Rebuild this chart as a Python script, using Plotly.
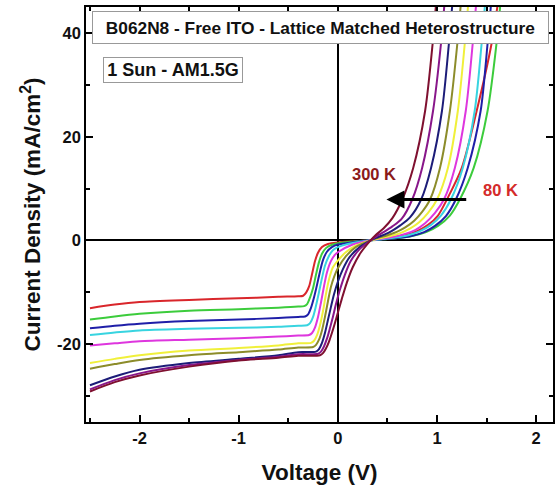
import plotly.graph_objects as go

# ---- data ----
colors = ["#d9262b", "#3ccc3c", "#1f1fa8", "#38d4e0", "#de36de",
          "#f0f03a", "#8c8c2a", "#1c1c78", "#88168a", "#7f1030"]

V_red = [-2.5, -2.25, -2.0, -1.5, -1.0, -0.6, -0.40, -0.35, -0.32, -0.29, -0.26, -0.23, -0.20, -0.16, -0.10, 0.0, 0.15, 0.33, 0.45, 0.58, 0.70, 0.81, 0.91, 1.01, 1.10, 1.25, 1.40, 1.55, 1.63]
J_red = [-13.1, -12.4, -11.9, -11.5, -11.2, -10.9, -10.8, -10.7, -10.1, -8.9, -6.5, -4.0, -2.4, -1.3, -0.7, -0.4, -0.2, 0.0, 0.25, 0.6, 1.1, 1.9, 3.0, 4.8, 7.9, 14, 25, 38, 48]

V_green = [-2.5, -2.25, -2.0, -1.5, -1.0, -0.6, -0.40, -0.34, -0.31, -0.28, -0.25, -0.22, -0.19, -0.16, -0.12, -0.06, 0.0, 0.15, 0.33, 0.46, 0.60, 0.75, 0.89, 1.01, 1.13, 1.23, 1.37, 1.51, 1.60, 1.65]
J_green = [-15.3, -14.7, -14.2, -13.6, -13.3, -13.0, -12.8, -12.7, -12.3, -11.0, -9.2, -6.6, -4.2, -2.6, -1.5, -0.85, -0.55, -0.25, 0.0, 0.2, 0.45, 0.85, 1.6, 2.8, 4.8, 7.9, 14, 25, 38, 48]

V_blue = [-2.5, -2.25, -2.0, -1.5, -1.0, -0.6, -0.40, -0.33, -0.30, -0.27, -0.24, -0.21, -0.18, -0.15, -0.11, -0.06, 0.0, 0.15, 0.33, 0.46, 0.60, 0.74, 0.87, 0.98, 1.09, 1.19, 1.31, 1.44, 1.51, 1.555]
J_blue = [-17.0, -16.5, -16.1, -15.6, -15.3, -15.0, -14.8, -14.7, -14.3, -13.0, -11.0, -8.6, -6.0, -3.8, -2.2, -1.3, -0.8, -0.35, 0.0, 0.2, 0.45, 0.85, 1.6, 2.8, 4.7, 7.9, 14, 25, 38, 48]

V_cyan = [-2.5, -2.25, -2.0, -1.5, -1.0, -0.6, -0.40, -0.31, -0.28, -0.25, -0.22, -0.19, -0.16, -0.13, -0.09, -0.05, 0.0, 0.15, 0.33, 0.45, 0.58, 0.71, 0.83, 0.94, 1.04, 1.14, 1.26, 1.38, 1.45, 1.495]
J_cyan = [-18.3, -17.8, -17.4, -17.1, -16.9, -16.7, -16.5, -16.4, -16.0, -14.8, -12.6, -10.0, -7.3, -4.9, -3.0, -1.9, -1.3, -0.5, 0.0, 0.25, 0.55, 1.0, 1.8, 3.0, 4.8, 7.9, 14, 25, 38, 48]

V_magenta = [-2.5, -2.25, -2.0, -1.5, -1.0, -0.6, -0.40, -0.29, -0.26, -0.23, -0.20, -0.17, -0.14, -0.11, -0.07, -0.03, 0.0, 0.15, 0.33, 0.45, 0.56, 0.67, 0.78, 0.88, 0.98, 1.07, 1.18, 1.29, 1.36, 1.405]
J_magenta = [-20.3, -19.9, -19.5, -19.2, -18.9, -18.6, -18.4, -18.3, -17.9, -16.8, -14.8, -12.0, -8.9, -6.2, -4.0, -2.8, -2.3, -0.8, 0.0, 0.35, 0.7, 1.2, 2.0, 3.3, 5.3, 7.9, 14, 25, 38, 48]

V_yellow = [-2.5, -2.25, -2.0, -1.5, -1.0, -0.6, -0.40, -0.27, -0.24, -0.21, -0.18, -0.15, -0.12, -0.09, -0.05, 0.0, 0.08, 0.18, 0.33, 0.42, 0.52, 0.63, 0.73, 0.82, 0.91, 1.00, 1.11, 1.21, 1.28, 1.325]
J_yellow = [-23.7, -22.9, -22.2, -21.3, -20.8, -20.3, -19.9, -19.8, -19.4, -18.3, -16.4, -13.7, -10.4, -7.6, -5.2, -3.9, -2.3, -1.0, 0.0, 0.4, 0.8, 1.4, 2.3, 3.5, 5.3, 7.9, 14, 25, 38, 48]

V_olive = [-2.5, -2.25, -2.0, -1.5, -1.0, -0.6, -0.40, -0.25, -0.22, -0.19, -0.16, -0.13, -0.10, -0.07, -0.035, 0.0, 0.08, 0.18, 0.33, 0.40, 0.50, 0.60, 0.68, 0.77, 0.85, 0.93, 1.03, 1.13, 1.205, 1.25]
J_olive = [-24.8, -23.9, -23.1, -22.2, -21.6, -21.1, -20.7, -20.6, -20.2, -19.2, -17.4, -14.8, -11.8, -9.0, -6.9, -5.4, -3.1, -1.3, 0.0, 0.45, 1.0, 1.7, 2.5, 3.8, 5.5, 7.9, 14, 25, 38, 48]

V_navy = [-2.5, -2.25, -2.0, -1.5, -1.0, -0.6, -0.40, -0.22, -0.19, -0.16, -0.13, -0.10, -0.07, -0.04, 0.0, 0.05, 0.12, 0.22, 0.33, 0.40, 0.48, 0.55, 0.63, 0.73, 0.84, 0.94, 1.05, 1.12, 1.165]
J_navy = [-28.0, -26.3, -25.0, -23.7, -22.9, -22.2, -21.6, -21.5, -21.0, -19.8, -17.9, -15.4, -12.9, -10.5, -8.0, -5.6, -3.2, -1.3, 0.0, 0.6, 1.2, 1.9, 2.9, 4.5, 7.9, 14, 25, 38, 48]

V_purple = [-2.5, -2.25, -2.0, -1.5, -1.0, -0.6, -0.40, -0.20, -0.17, -0.14, -0.11, -0.08, -0.05, -0.02, 0.02, 0.07, 0.13, 0.22, 0.33, 0.40, 0.47, 0.55, 0.645, 0.75, 0.85, 0.96, 1.04, 1.085]
J_purple = [-28.8, -27.0, -25.7, -24.1, -23.1, -22.5, -22.0, -21.9, -21.5, -20.5, -19.0, -17.0, -14.8, -12.4, -9.6, -6.7, -4.0, -1.7, 0.0, 0.9, 1.7, 2.7, 4.2, 7.9, 14, 25, 38, 48]

V_maroon = [-2.5, -2.25, -2.0, -1.5, -1.0, -0.6, -0.40, -0.18, -0.15, -0.12, -0.09, -0.06, -0.03, 0.0, 0.04, 0.09, 0.15, 0.23, 0.33, 0.38, 0.46, 0.55, 0.65, 0.76, 0.88, 0.956, 1.0]
J_maroon = [-29.2, -27.4, -26.1, -24.4, -23.2, -22.7, -22.3, -22.2, -21.8, -20.9, -19.6, -17.9, -16.0, -14.0, -11.3, -8.2, -5.2, -2.4, 0.0, 1.0, 2.3, 4.3, 7.9, 14, 25, 38, 48]

curves = [(V_red, J_red), (V_green, J_green), (V_blue, J_blue), (V_cyan, J_cyan),
          (V_magenta, J_magenta), (V_yellow, J_yellow), (V_olive, J_olive),
          (V_navy, J_navy), (V_purple, J_purple), (V_maroon, J_maroon)]

x_tickvals = [-2, -1, 0, 1, 2]
x_ticktext = ["-2", "-1", "0", "1", "2"]
x_minor = [-2.5, -1.5, -0.5, 0.5, 1.5]
y_tickvals = [-20, 0, 20, 40]
y_ticktext = ["-20", "0", "20", "40"]
y_minor = [-30, -10, 10, 30]

FONT = "Liberation Sans, Arial, sans-serif"
INK = "#111"

fig = go.Figure()
for (vv, jj), c in zip(curves, colors):
    fig.add_trace(go.Scatter(x=vv, y=jj, mode="lines",
                             line=dict(color=c, width=2, shape="spline", smoothing=0.8),
                             showlegend=False, hoverinfo="skip"))

axis_common = dict(showline=True, linecolor="black", linewidth=1.5, mirror="ticks",
                   ticks="inside", ticklen=7, tickwidth=1.5, tickcolor="black",
                   showgrid=False, zeroline=True, zerolinecolor="black", zerolinewidth=1.5,
                   tickfont=dict(family=FONT, size=16.5, color=INK, weight="bold"))

fig.update_xaxes(range=[-2.54, 2.17], tickmode="array", tickvals=x_tickvals, ticktext=x_ticktext,
                 minor=dict(tickmode="array", tickvals=x_minor, ticks="inside", ticklen=4,
                            tickwidth=1.5, tickcolor="black"),
                 title=dict(text="Voltage (V)", standoff=19,
                            font=dict(family=FONT, size=22.5, color=INK, weight="bold")),
                 **axis_common)
fig.update_yaxes(range=[-35.1, 45.1], tickmode="array", tickvals=y_tickvals, ticktext=y_ticktext,
                 minor=dict(tickmode="array", tickvals=y_minor, ticks="inside", ticklen=4,
                            tickwidth=1.5, tickcolor="black"),
                 title=dict(text="Current Density (mA/cm<sup>2</sup>)", standoff=10,
                            font=dict(family=FONT, size=22.5, color=INK, weight="bold")),
                 **axis_common)

fig.add_annotation(xref="paper", yref="paper", x=0.502, y=0.9506, xanchor="center", yanchor="middle",
                   showarrow=False, width=445, height=21,
                   text="B062N8 - Free ITO - Lattice Matched Heterostructure",
                   font=dict(family=FONT, size=17.3, color=INK, weight="bold"),
                   bgcolor="white", bordercolor="#999", borderwidth=1, borderpad=5)
fig.add_annotation(xref="paper", yref="paper", x=0.1855, y=0.848, xanchor="center", yanchor="middle",
                   showarrow=False, width=132, height=18,
                   text="1 Sun - AM1.5G",
                   font=dict(family=FONT, size=18, color=INK, weight="bold"),
                   bgcolor="white", bordercolor="#999", borderwidth=1, borderpad=3)
fig.add_annotation(x=0.36, y=12.8, showarrow=False, text="300 K",
                   font=dict(family=FONT, size=16.5, color="#8b1a1a", weight="bold"))
fig.add_annotation(x=1.64, y=9.7, showarrow=False, text="80 K",
                   font=dict(family=FONT, size=16.5, color="#d42a2a", weight="bold"))
fig.add_annotation(x=0.49, y=7.9, ax=1.31, ay=7.9, axref="x", ayref="y", text="",
                   showarrow=True, arrowhead=2, arrowsize=1.2, arrowwidth=3, arrowcolor="black")

fig.update_layout(width=556, height=487, autosize=False,
                  margin=dict(l=86, r=1, t=7, b=65),
                  paper_bgcolor="white", plot_bgcolor="white")

fig.write_html("out.html")
